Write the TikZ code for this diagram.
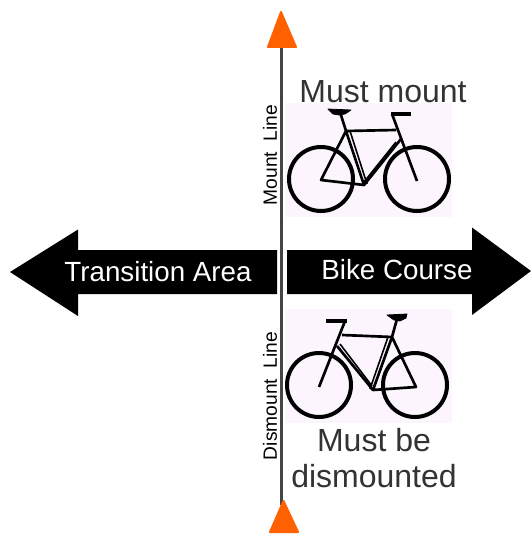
\documentclass[tikz,border=0pt]{standalone}
\usepackage{fontspec}
\setmainfont{Liberation Sans}
\definecolor{cone}{HTML}{FF6000}
\definecolor{bikebg}{HTML}{FCF5FE}
\definecolor{axis}{HTML}{454545}
\tikzset{
  px/.style={x=0.75pt,y=-0.75pt},
  cone/.style={fill=cone,draw=cone,line width=1.5pt,line join=round},
  bigarrow/.style={fill=black,draw=none},
  panel/.style={fill=bikebg,draw=none},
  wheel/.style={draw=black,line width=3pt},
  frame/.style={draw=black,line width=2pt,line join=round},
  thinframe/.style={draw=black,line width=1.2pt},
  saddlefill/.style={fill=black,draw=black,line width=0.6pt,line join=round},
  bar/.style={draw=black,line width=2.6pt},
  arrowtext/.style={inner sep=0pt,text=white,font=\fontsize{20.8}{24}\selectfont},
  bigtext/.style={inner sep=0pt,text=black!80,font=\fontsize{24}{28}\selectfont},
  linetext/.style={inner sep=0pt,text=black,rotate=90,font=\fontsize{14.4}{16}\selectfont},
}
\begin{document}
\begin{tikzpicture}[px]
\useasboundingbox (0,0) rectangle (531,535);
\fill[white] (0,0) rectangle (531,535);
% panels
\path[panel] (285,103) rectangle (452,217);
\path[panel] (285,309) rectangle (452,423);
% axis
\coordinate (axtop) at (281.5,44);
\coordinate (axbot) at (281.5,505);
\draw[axis,line width=1.6pt] (axtop) -- (axbot);
\path[cone] (281,12) -- (268,47) -- (296,47) -- cycle;
\path[cone] (283.5,501) -- (270,532) -- (298,532) -- cycle;
% big arrows
\path[bigarrow] (10,272) -- (78,229.5) -- (78,250) -- (277,250) -- (277,294) -- (78,294) -- (78,316) -- cycle;
\path[bigarrow] (531,271) -- (472,227.5) -- (472,250) -- (287,250) -- (287,294) -- (472,294) -- (472,315) -- cycle;
\node[arrowtext] (ta) at (158,272) {Transition Area};
\node[arrowtext] (bc) at (397,270) {Bike Course};
% upper bicycle
\draw[wheel] (321,179) circle (32);
\draw[wheel] (417,179) circle (32);
\draw[frame] (321,180) -- (346,131) -- (364,185) -- cycle;
\draw[thinframe] (350,131) -- (367,184);
\draw[thinframe] (396,142) -- (364,182);
\draw[frame] (346,131) -- (396,130);
\draw[frame] (364,185) -- (401,139);
\draw[frame] (392,114) -- (417,181);
\draw[bar] (391,114) -- (411,114);
\draw[frame] (340,112) -- (346,131);
\path[saddlefill] (328,109) -- (351,110) -- (345,114) -- (339,115) -- (333,114) -- cycle;
% lower bicycle
\draw[wheel] (319,385) circle (32);
\draw[wheel] (415,385) circle (32);
\draw[frame] (416,387) -- (392,337) -- (373,390) -- cycle;
\draw[thinframe] (388,337) -- (370,389);
\draw[thinframe] (340,344) -- (372,386);
\draw[frame] (392,337) -- (342,335);
\draw[frame] (373,390) -- (337,346);
\draw[frame] (345,321) -- (319,387);
\draw[bar] (326,321) -- (347,321);
\draw[frame] (397,319) -- (392,337);
\path[saddlefill] (387,315) -- (407,314) -- (406,318) -- (400,321) -- (394,320) -- cycle;
% texts
\node[bigtext] (mm) at (383,92) {Must mount};
\node[bigtext] (mb) at (374,440) {Must be};
\node[bigtext] (dm) at (374,476) {dismounted};
\node[linetext] (ml) at (270,155) {Mount\ \ Line};
\node[linetext] (dl) at (270,396) {Dismount\ \ Line};
\end{tikzpicture}
\end{document}
